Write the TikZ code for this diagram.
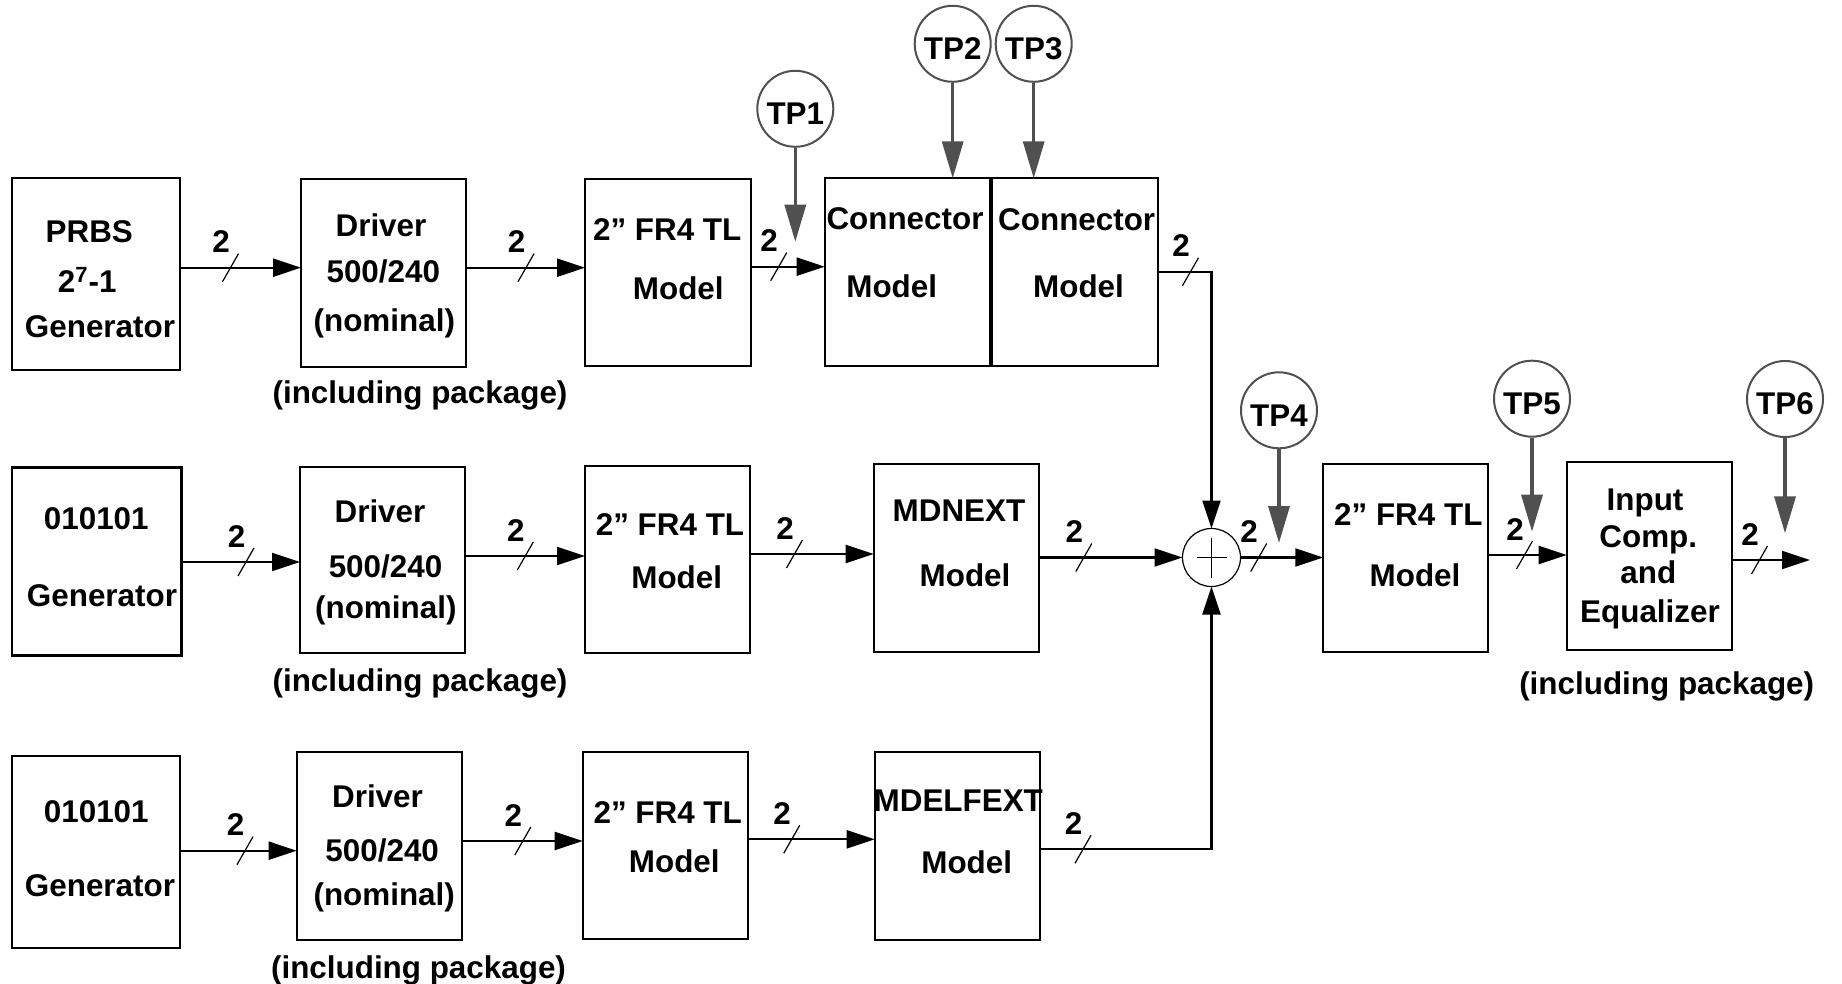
\documentclass[tikz,border=0pt]{standalone}
\usepackage{fontspec}
\setmainfont{Liberation Sans}
\usetikzlibrary{arrows.meta,calc}
\definecolor{tpgray}{HTML}{505050}
\tikzset{
  box/.style={draw=black, line width=1.1pt, rectangle, inner sep=0pt, outer sep=0pt},
  txt/.style={inner sep=0pt, outer sep=0pt, font=\bfseries\fontsize{15.7pt}{18pt}\selectfont, text height=11.2pt, text depth=0pt},
  arr/.style={line width=1.1pt, -{Triangle[length=14pt,width=9pt]}},
  slashln/.style={line width=0.6pt},
  tp/.style={circle, draw=tpgray, line width=1pt, minimum size=38pt, inner sep=0pt, font=\bfseries\fontsize{15.7pt}{18pt}\selectfont, text height=15.7pt, text depth=0pt},
  tparr/.style={draw=tpgray, line width=1.7pt, -{Triangle[length=18.5pt,width=10.5pt]}},
  sumnode/.style={circle, draw=black, line width=0.6pt, minimum size=29pt, inner sep=0pt, outer sep=0pt}
}
\newcommand\blk[5]{\node[box, minimum width={(#4-#2)*0.5pt}, minimum height={(#5-#3)*0.5pt}] (#1) at ({(#2+#4)/2},{(#3+#5)/2}) {};}
\newcommand\tx[4]{\node[txt] (#1) at (#2,#3) {#4};}
\newcommand\bus[3]{\draw[slashln] (#2-8,#3+14) -- (#2+8,#3-14); \node[txt] (#1) at (#2-9.5,#3-26) {2};}
\begin{document}
\begin{tikzpicture}[x=0.5pt,y=-0.5pt]
\useasboundingbox (0,0) rectangle (1842,984);

% ---------- Row 1 ----------
\blk{prbs}{11.7}{177.7}{180}{370}
\tx{prbsA}{89.3}{231.7}{PRBS}
\tx{prbsB}{87.3}{281.7}{2\textsuperscript{7}-1}
\tx{prbsC}{100}{326.7}{Generator}

\blk{drv1}{301}{179.3}{466}{366.7}
\tx{drv1A}{381}{225}{Driver}
\tx{drv1B}{383.3}{271.7}{500/240}
\tx{drv1C}{384.3}{320.7}{(nominal)}
\tx{pkg1}{420}{392}{(including package)}

\blk{fr41}{585}{179}{751}{365.7}
\tx{fr41A}{667.2}{229}{2” FR4 TL}
\tx{fr41B}{678.3}{288.3}{Model}

\blk{conn1}{824.7}{178.3}{990}{365.7}
\tx{conn1A}{905}{218.3}{Connector}
\tx{conn1B}{891.7}{286.7}{Model}

\blk{conn2}{992.3}{178.3}{1157.7}{365.7}
\tx{conn2A}{1076.7}{219}{Connector}
\tx{conn2B}{1078.5}{286}{Model}

\node[tp] (tp1) at (795.3,108.8) {TP1};
\node[tp] (tp2) at (952.7,43.8) {TP2};
\node[tp] (tp3) at (1033.7,43.8) {TP3};

% ---------- Row 2 ----------
\blk{gen2}{11.7}{467.5}{181.5}{655.5}
\tx{gen2A}{96.3}{518}{010101}
\tx{gen2B}{102}{595.6}{Generator}

\blk{drv2}{300}{466.7}{465}{653.3}
\tx{drv2A}{380}{511}{Driver}
\tx{drv2B}{385.5}{566}{500/240}
\tx{drv2C}{385.8}{607}{(nominal)}
\tx{pkg2}{420}{680}{(including package)}

\blk{fr42}{585}{465.7}{750}{653.3}
\tx{fr42A}{670}{524.3}{2” FR4 TL}
\tx{fr42B}{676.7}{577.3}{Model}

\blk{mdnext}{873.7}{464}{1039.3}{651.7}
\tx{mdnextA}{959}{510}{MDNEXT}
\tx{mdnextB}{965}{575}{Model}

\node[sumnode] (sum) at (1211.5,557.5) {};
\draw[line width=0.7pt] (sum.center) ++(-15,0) -- ++(30,0);
\draw[line width=0.7pt] (sum.center) ++(0,-20) -- ++(0,40);

\node[tp] (tp4) at (1279,410.3) {TP4};

\blk{fr4r}{1323.3}{464}{1488.3}{652.3}
\tx{fr4rA}{1408.3}{514}{2” FR4 TL}
\tx{fr4rB}{1415}{575}{Model}

\node[tp] (tp5) at (1532,398.7) {TP5};

\blk{inp}{1566.7}{462.3}{1732.3}{650}
\tx{inpA}{1645}{499.2}{Input}
\tx{inpB}{1648.3}{536.7}{Comp.}
\tx{inpC}{1648.3}{572}{and}
\tx{inpD}{1650}{611.7}{Equalizer}
\tx{pkg4}{1666.7}{683.3}{(including package)}

\node[tp] (tp6) at (1785,399) {TP6};

% ---------- Row 3 ----------
\blk{gen3}{11.7}{756}{180}{948}
\tx{gen3A}{96.3}{811}{010101}
\tx{gen3B}{100}{885}{Generator}

\blk{drv3}{296.7}{752}{462.3}{940}
\tx{drv3A}{377.5}{796.7}{Driver}
\tx{drv3B}{382.2}{850.7}{500/240}
\tx{drv3C}{384.2}{894.2}{(nominal)}
\tx{pkg3}{418.5}{967}{(including package)}

\blk{fr43}{582.7}{752}{748.3}{939}
\tx{fr43A}{667.7}{812.7}{2” FR4 TL}
\tx{fr43B}{674.3}{861}{Model}

\blk{mdel}{874.7}{752}{1040}{940}
\tx{mdelA}{958.3}{800}{MDELFEXT}
\tx{mdelB}{966.7}{862.7}{Model}

% ---------- free ends ----------
\coordinate (tp1end) at (795.3,241.7);
\coordinate (tp4end) at (1279,543);
\coordinate (tp5end) at (1532,531.7);
\coordinate (tp6end) at (1785,533.3);
\coordinate (outend) at (1810,560);

% ---------- connectors ----------
\draw[arr] (prbs.east |- 0,267.7) -- (drv1.west |- 0,267.7);
\draw[arr] (drv1.east |- 0,267.7) -- (fr41.west |- 0,267.7);
\draw[arr] (fr41.east |- 0,266.7) -- (conn1.west |- 0,266.7);
\draw[arr] (conn2.east |- 0,271.7) -| (sum.north);

\draw[arr] (gen2.east |- 0,562) -- (drv2.west |- 0,562);
\draw[arr] (drv2.east |- 0,556) -- (fr42.west |- 0,556);
\draw[arr] (fr42.east |- 0,554) -- (mdnext.west |- 0,554);
\draw[arr] (mdnext.east |- sum.west) -- (sum.west);
\draw[arr] (sum.east) -- (fr4r.west |- sum.east);
\draw[arr] (fr4r.east |- 0,555) -- (inp.west |- 0,555);
\draw[arr] (inp.east |- 0,560) -- (outend);

\draw[arr] (gen3.east |- 0,850.7) -- (drv3.west |- 0,850.7);
\draw[arr] (drv3.east |- 0,841) -- (fr43.west |- 0,841);
\draw[arr] (fr43.east |- 0,839.3) -- (mdel.west |- 0,839.3);
\draw[arr] (mdel.east |- 0,849.3) -| (sum.south);

\draw[tparr] (tp1.south) -- (tp1end);
\draw[tparr] (tp2.south) -- (tp2.south |- conn1.north);
\draw[tparr] (tp3.south) -- (tp3.south |- conn2.north);
\draw[tparr] (tp4.south) -- (tp4end);
\draw[tparr] (tp5.south) -- (tp5end);
\draw[tparr] (tp6.south) -- (tp6end);

% ---------- bus marks ----------
\bus{b1}{230.5}{267.7}
\bus{b2}{526}{267.7}
\bus{b3}{778.7}{266.7}
\bus{b4}{1190.5}{271.7}
\bus{b5}{246}{562}
\bus{b6}{525.3}{556}
\bus{b7}{794.5}{554}
\bus{b8}{1083.8}{557.5}
\bus{b9}{1258.7}{557.5}
\bus{b10}{1524.5}{555}
\bus{b11}{1759.5}{560}
\bus{b12}{245}{850.7}
\bus{b13}{522.8}{841}
\bus{b14}{791.7}{839.3}
\bus{b15}{1083}{849.3}
\end{tikzpicture}
\end{document}
